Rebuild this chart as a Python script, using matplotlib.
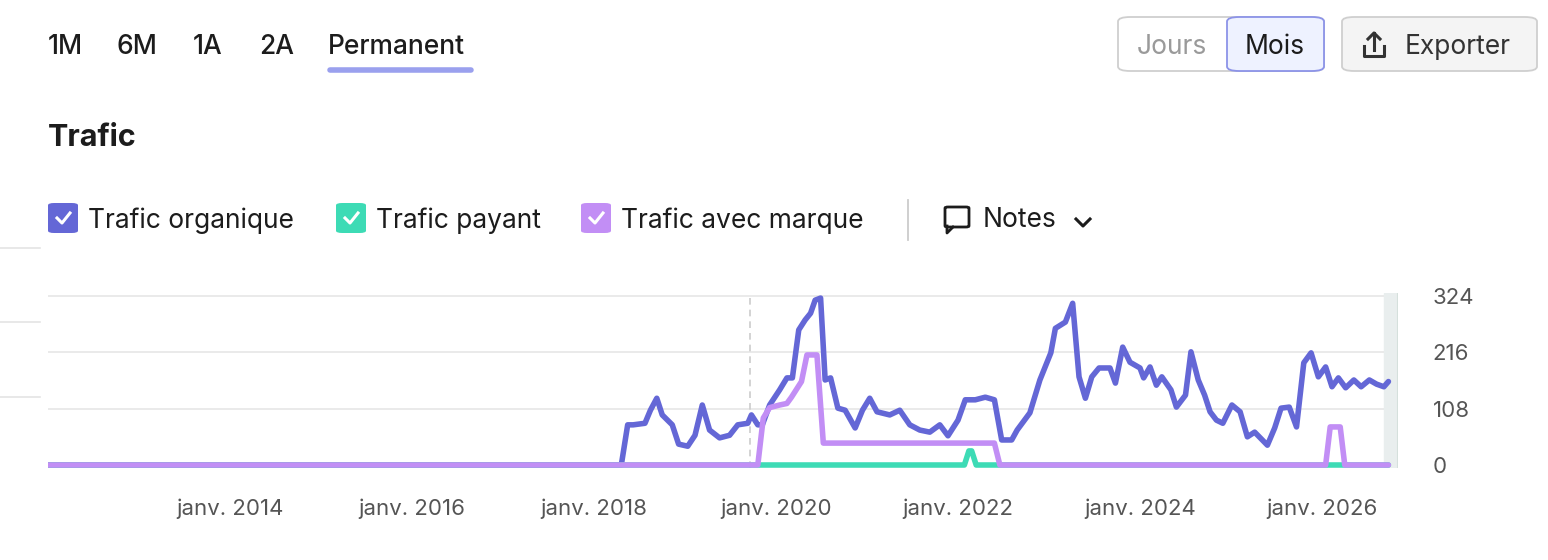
import matplotlib
matplotlib.use("Agg")
import matplotlib.pyplot as plt
from matplotlib.patches import FancyBboxPatch
from matplotlib.lines import Line2D

plt.rcParams['font.family'] = ['Inter', 'DejaVu Sans']

W, H = 1548, 560

# decimal years and values
org_x = [2012.0, 2018.30, 2018.37, 2018.43, 2018.56, 2018.62, 2018.69, 2018.75, 2018.86, 2018.93,
         2019.03, 2019.11, 2019.19, 2019.27, 2019.38, 2019.49, 2019.58, 2019.69, 2019.73, 2019.80,
         2019.85, 2019.93, 2020.04, 2020.12, 2020.18, 2020.25, 2020.32, 2020.38, 2020.43, 2020.49,
         2020.54, 2020.60, 2020.68, 2020.76, 2020.87, 2020.95, 2021.03, 2021.11, 2021.25, 2021.36,
         2021.47, 2021.58, 2021.69, 2021.80, 2021.89, 2022.0, 2022.08, 2022.19, 2022.30, 2022.40,
         2022.48, 2022.59, 2022.65, 2022.79, 2022.90, 2023.02, 2023.07, 2023.18, 2023.26, 2023.33,
         2023.40, 2023.47, 2023.55, 2023.67, 2023.73, 2023.81, 2023.89, 2024.00, 2024.04, 2024.11,
         2024.18, 2024.24, 2024.34, 2024.40, 2024.50, 2024.56, 2024.64, 2024.71, 2024.77, 2024.84,
         2024.91, 2025.01, 2025.10, 2025.18, 2025.26, 2025.40, 2025.48, 2025.55, 2025.64, 2025.72,
         2025.80, 2025.88, 2025.96, 2026.04, 2026.11, 2026.18, 2026.26, 2026.35, 2026.43, 2026.52,
         2026.60, 2026.68, 2026.73]
org_y = [0, 0, 77, 77, 80, 105, 128, 96, 77, 40,
         36, 57, 115, 67, 52, 57, 77, 80, 96, 77,
         77, 115, 144, 167, 167, 259, 278, 291, 316, 320,
         163, 167, 109, 105, 71, 105, 128, 102, 96, 105,
         77, 67, 63, 77, 56, 86, 125, 125, 130, 125,
         48, 48, 67, 100, 163, 215, 262, 274, 310, 169,
         128, 169, 186, 186, 157, 226, 197, 186, 167, 188,
         153, 169, 144, 111, 134, 217, 163, 134, 102, 86,
         80, 115, 102, 54, 63, 38, 71, 109, 111, 73,
         196, 215, 169, 188, 150, 167, 148, 163, 150, 163,
         155, 150, 160]

paid_x = [2012.0, 2022.07, 2022.12, 2022.15, 2022.20, 2026.73]
paid_y = [0, 0, 27, 27, 0, 0]

brand_x = [2012.0, 2019.80, 2019.86, 2019.93, 2020.04, 2020.12, 2020.17, 2020.28, 2020.34, 2020.45,
           2020.52, 2022.40, 2022.46, 2026.04, 2026.09, 2026.20, 2026.25, 2026.73]
brand_y = [0, 0, 90, 110, 115, 118, 130, 160, 211, 211,
           42, 42, 0, 0, 73, 73, 0, 0]

ticks = [2014, 2016, 2018, 2020, 2022, 2024, 2026]
tick_labels = ['janv. 2014', 'janv. 2016', 'janv. 2018', 'janv. 2020',
               'janv. 2022', 'janv. 2024', 'janv. 2026']
yticks = [0, 108, 216, 324]

c_org = '#6467d6'
c_paid = '#3ddbb5'
c_brand = '#c28ef5'
txt = '#1c1c1c'


def fx(x):
    return x / W


def fy(y):
    return 1 - y / H


def seg(xs, ys, **kw):
    fig.add_artist(Line2D([fx(v) for v in xs], [fy(v) for v in ys], **kw))


fig = plt.figure(figsize=(W / 100, H / 100), dpi=100)
fig.patch.set_facecolor('white')

# chart area: x 48..1398, y 293..468 px
ax = fig.add_axes([fx(48), fy(468), (1398 - 48) / W, (468 - 293) / H])
m = 324 * 3 / 169
ax.set_ylim(-m, 324 + m)
ax.set_xlim(2012.0, 2012.0 + 1350 / 91)
for s in ax.spines.values():
    s.set_visible(False)
ax.set_yticks(yticks)
ax.yaxis.tick_right()
ax.tick_params(axis='y', length=0, pad=25, labelsize=16, labelcolor='#555555')
ax.set_yticklabels([str(v) for v in yticks])
ax.set_xticks(ticks)
ax.set_xticklabels(tick_labels)
ax.tick_params(axis='x', length=0, pad=22, labelsize=16, labelcolor='#555555')
for v in yticks[1:]:
    ax.axhline(v, color='#e8e8e8', lw=1.3, zorder=0)
ax.axvspan(2026.68, 2026.88, color='#e9eeee', zorder=0)
ax.axvline(2026.83, color='#d5e0dc', lw=1.5, zorder=0)
ax.axvline(2019.71, color='#cccccc', lw=1.2, ls=(0, (4, 3)), zorder=0)

kw = dict(lw=4, solid_joinstyle='round', solid_capstyle='round')
ax.plot(org_x, org_y, color=c_org, zorder=3, **kw)
ax.plot(paid_x, paid_y, color=c_paid, zorder=4, **kw)
ax.plot(brand_x, brand_y, color=c_brand, zorder=5, **kw)

# top bar
for x, lab in [(48, '1M'), (116, '6M'), (193, '1A'), (259, '2A'), (328, 'Permanent')]:
    fig.text(fx(x), fy(47), lab, fontsize=19, color=txt, va='center', ha='left', weight='medium')
seg([330, 471], [70, 70], color='#9aa0ee', lw=4, solid_capstyle='round')

fig.add_artist(FancyBboxPatch((fx(1118), fy(71)), fx(206), 54 / H,
                              boxstyle='round,pad=0,rounding_size=0.008',
                              fc='white', ec='#cfcfcf', lw=1.3))
fig.add_artist(FancyBboxPatch((fx(1227), fy(71)), fx(97), 54 / H,
                              boxstyle='round,pad=0,rounding_size=0.008',
                              fc='#eef2ff', ec='#8c93e8', lw=1.3))
fig.text(fx(1172), fy(47), 'Jours', fontsize=19, color='#9a9a9a', ha='center', va='center')
fig.text(fx(1275), fy(47), 'Mois', fontsize=19, color=txt, ha='center', va='center')
fig.add_artist(FancyBboxPatch((fx(1342), fy(71)), fx(195), 54 / H,
                              boxstyle='round,pad=0,rounding_size=0.008',
                              fc='#f4f4f4', ec='#cfcfcf', lw=1.3))
# export icon
seg([1364, 1364, 1384, 1384], [46, 56, 56, 46], color='#333333', lw=2.2)
seg([1374, 1374], [33, 50], color='#333333', lw=2.2)
seg([1368, 1374, 1380], [39, 33, 39], color='#333333', lw=2.2)
fig.text(fx(1405), fy(47), 'Exporter', fontsize=19, color='#333333', ha='left', va='center')

fig.text(fx(48), fy(138), 'Trafic', fontsize=22, color=txt, weight='bold', va='center')

# legend
for x, lab, c in [(48, 'Trafic organique', c_org), (336, 'Trafic payant', c_paid),
                  (581, 'Trafic avec marque', c_brand)]:
    fig.add_artist(FancyBboxPatch((fx(x), fy(233)), fx(30), 30 / H,
                                  boxstyle='round,pad=0,rounding_size=0.004',
                                  fc=c, ec='none'))
    seg([x + 9, x + 14, x + 22], [218, 223, 213], color='white', lw=2.2)
    fig.text(fx(x + 40), fy(221), lab, fontsize=19, color=txt, va='center')
seg([908, 908], [200, 240], color='#cccccc', lw=1.3)
fig.add_artist(FancyBboxPatch((fx(945), fy(227)), fx(24), 20 / H,
                              boxstyle='round,pad=0,rounding_size=0.002',
                              fc='white', ec=txt, lw=2))
seg([947, 947, 953], [226, 233, 227], color=txt, lw=2)
fig.text(fx(983), fy(220), 'Notes', fontsize=19, color=txt, va='center')
seg([1076, 1083, 1090], [219, 226, 219], color=txt, lw=2.2)

# partial table lines on the left edge
for y in [248, 322, 397]:
    seg([0, 40], [y, y], color='#e4e4e4', lw=1.2)

fig.savefig('out.png', dpi=100)
